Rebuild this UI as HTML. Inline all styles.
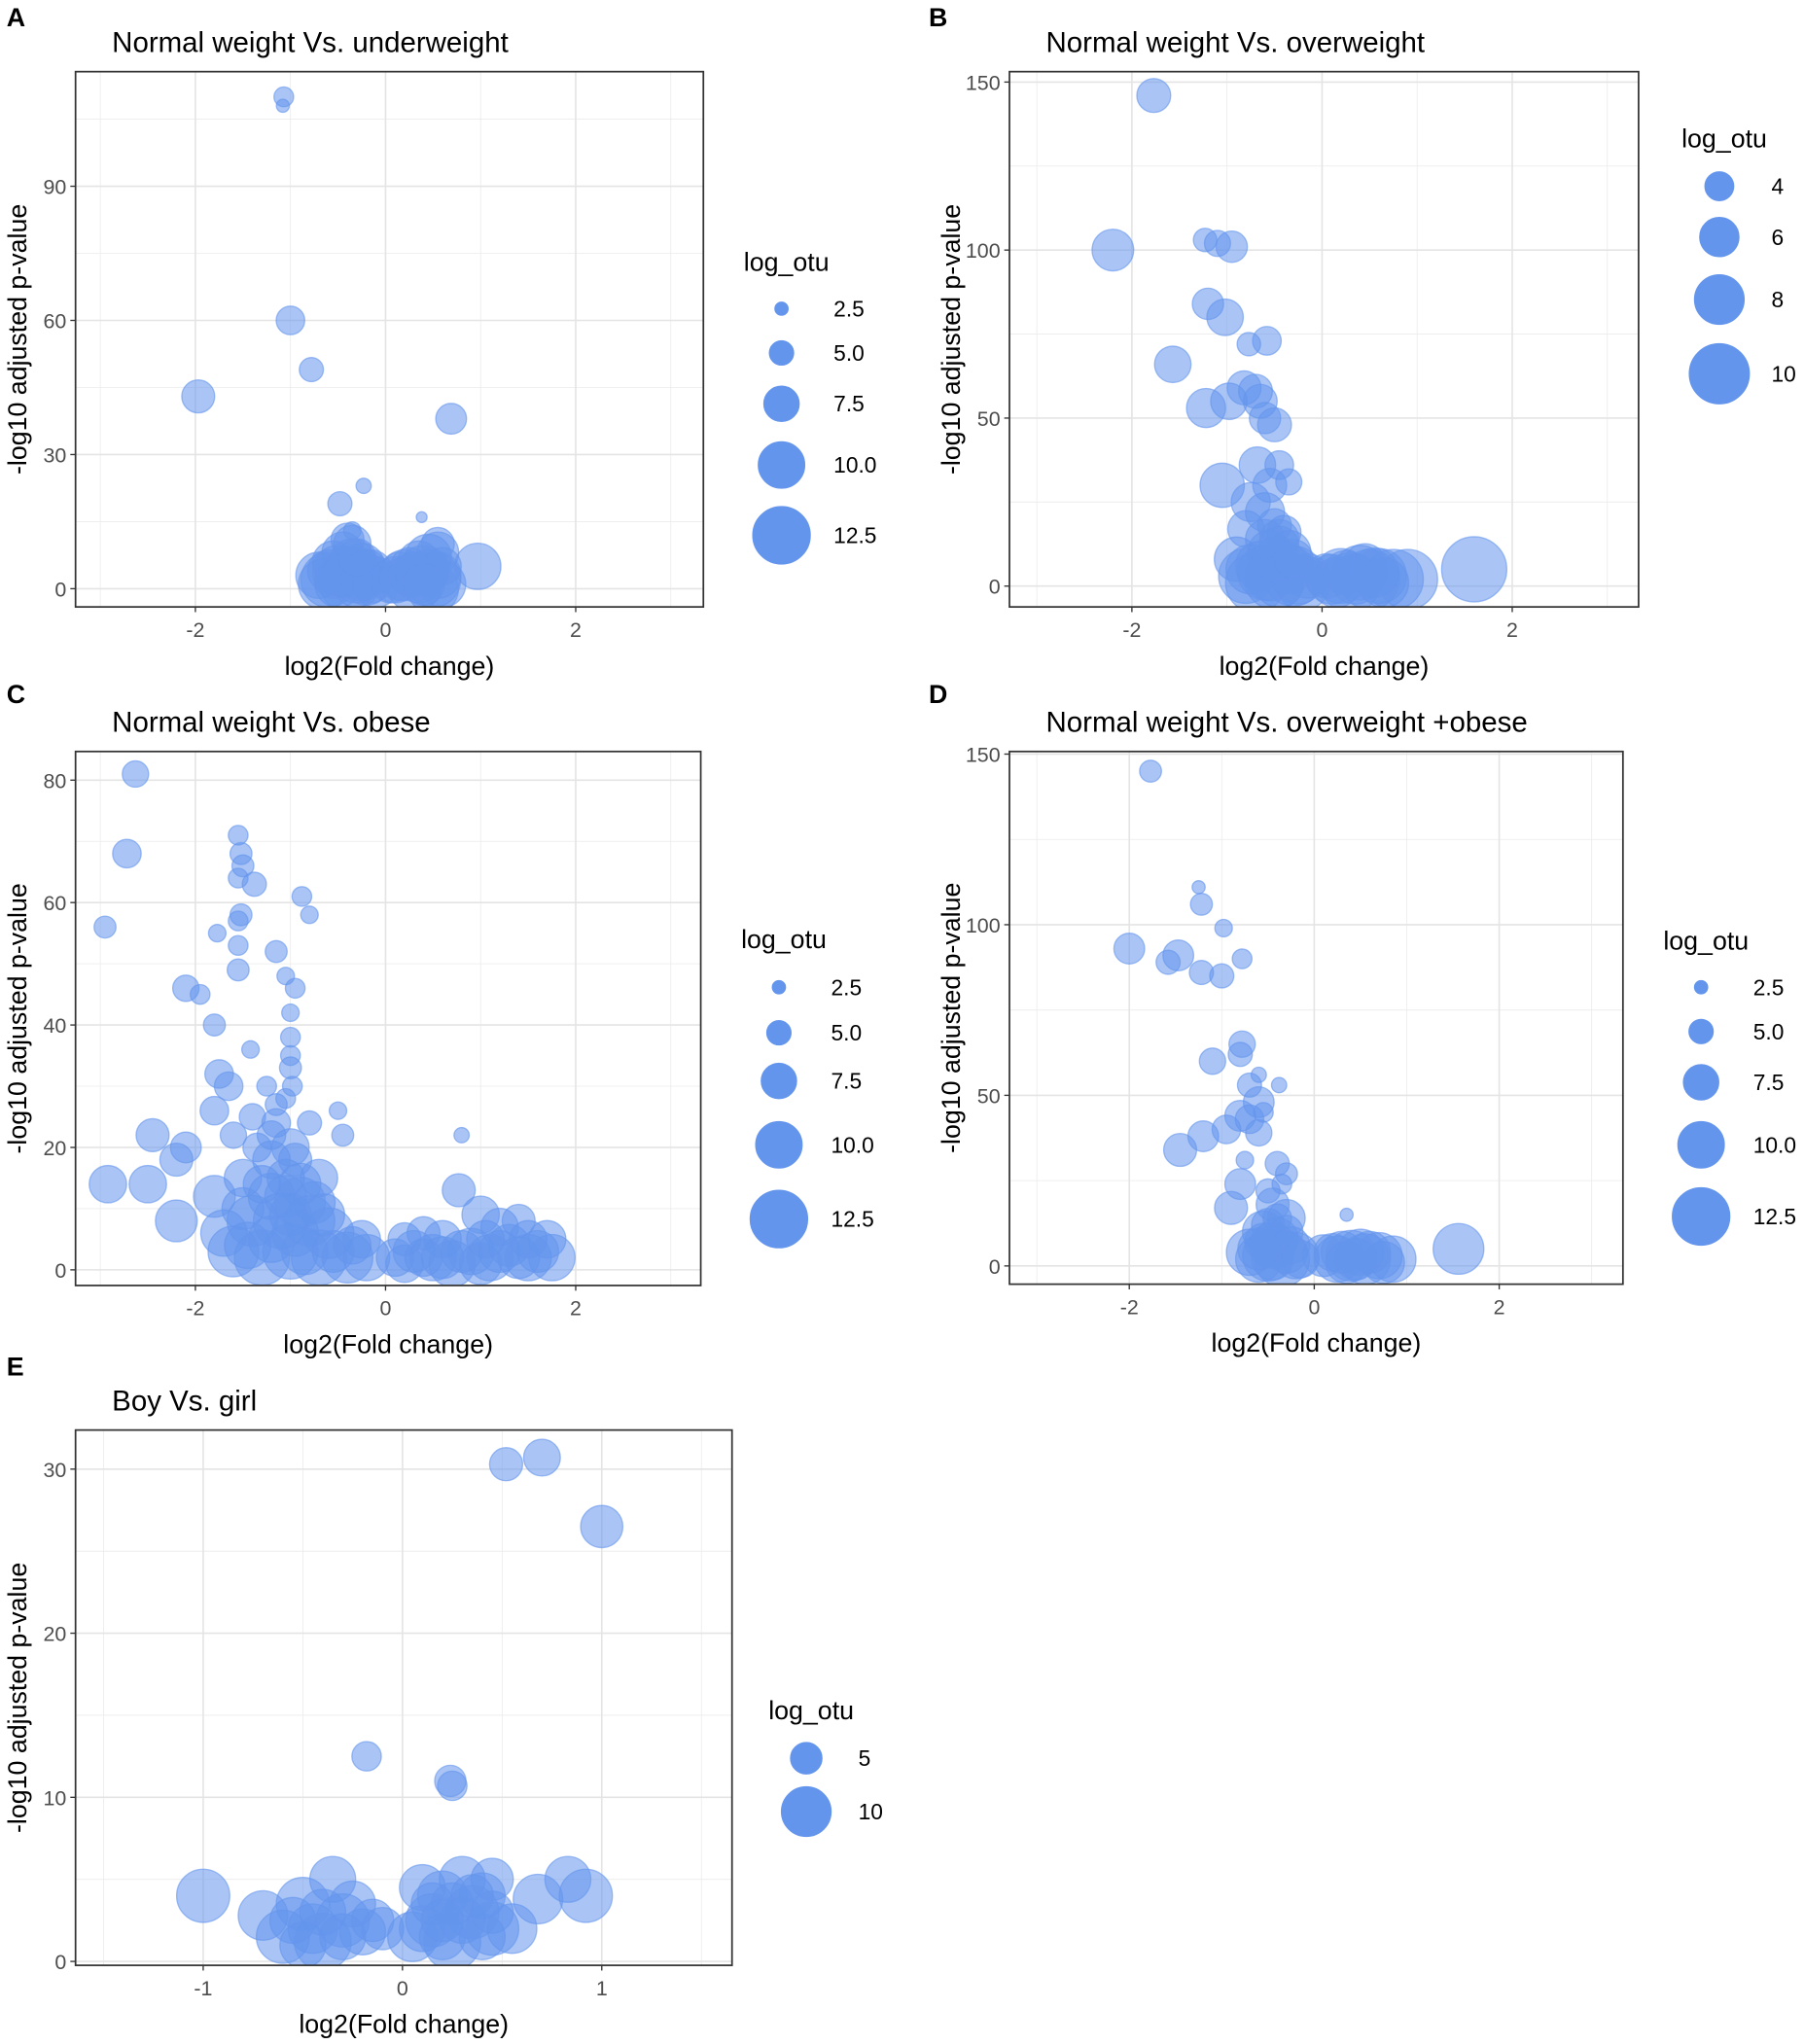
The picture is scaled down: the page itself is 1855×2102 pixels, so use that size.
<!DOCTYPE html>
<html><head><meta charset="utf-8"><style>
html,body{margin:0;padding:0;background:#fff}
svg{display:block;font-family:"Liberation Sans",Arial,sans-serif}
</style></head><body>
<svg id="fig" width="1855" height="2102" viewBox="0 0 1385 1569.4" xmlns="http://www.w3.org/2000/svg"></svg>
<script>
// ---- data (x = log2 fold change, y = -log10 adj p, s = log_otu) ----
const pointsA = [[-1.07,110,4],[-1.08,108,2.5],[-1.0,60,6],[-0.78,49,5],[-1.97,43,7],[0.69,38,6.5],[-0.23,23,3],[-0.48,19,5],[0.38,16,2],[-0.35,13,3.5],[0.55,10,7],[0.97,5,10],
[-0.7,3,10],[-0.6,2,12],[-0.5,4,11],[-0.4,1,12],[-0.3,3,12],[-0.2,2,11],[-0.1,1,10],[-0.45,8,9],[-0.35,6,10],[-0.55,6,9],[-0.25,5,10],[-0.15,4,9],[-0.65,1,11],[-0.35,10,8],
[-0.6,4,9],[-0.5,1,10],[-0.4,4,10],[-0.3,1,10],[-0.2,4,9],[-0.1,3,8],[-0.55,2,8],[-0.45,3,9],[-0.25,2,9],[-0.15,1,8],[-0.3,7,8],[-0.4,11,7],
[0.1,2,10],[0.2,3,11],[0.3,1,12],[0.4,4,11],[0.5,2,12],[0.6,1,10],[0.45,7,10],[0.35,6,9],[0.55,8,9],[0.25,5,8],[0.15,4,8],[0.5,0,11],
[0.05,1,8],[0.15,2,9],[0.25,3,9],[0.35,2,10],[0.45,4,9],[0.55,3,10],[0.6,5,8],[0.3,4,8],[0.4,1,9]];
const pointsB = [[-1.77,146,5],[-2.2,100,6.5],[-1.23,103,3],[-1.1,102,3.5],[-0.95,101,4.5],[-1.2,84,4.5],[-1.02,80,5.5],[-0.58,73,4],[-0.77,72,3],[-1.57,66,5.5],[-0.82,59,5],[-0.7,58,5],[-0.65,55,5],[-1.22,53,6],[-0.98,55,5.5],[-0.6,50,4.5],[-0.5,48,5],[-1.05,30,7],[-0.68,36,5.5],[-0.45,36,4],[-0.55,30,5],[-0.35,31,3.5],[-0.75,25,6],[-0.6,22,6],[-0.8,17,5.5],[-0.5,18,5],[-0.45,12,6],[-0.9,8,7],[-0.8,3,9],[-0.7,1,10],[-0.6,4,9],[-0.5,2,10],[-0.4,6,8],[-0.3,3,10],[-0.2,1,9],[-0.45,14,6],[-0.35,10,7],[-0.55,10,7],
[-0.65,6,8],[-0.55,3,8],[-0.45,1,8],[-0.35,5,8],[-0.25,2,8],[-0.15,3,7],[-0.75,5,8],[-0.5,8,7],[-0.4,16,5],[-0.6,14,6],[-0.3,8,6],
[0.1,2,8],[0.2,3,9],[0.3,1,10],[0.4,4,9],[0.5,2,10],[0.6,3,9],[0.75,2,10],[0.9,2,10],[1.6,5,11],[0.45,6,7],
[0.05,3,7],[0.15,1,8],[0.25,4,7],[0.35,2,8],[0.55,4,8],[0.65,1,8]];
const pointsC = [[-2.63,81,5.5],[-2.72,68,6],[-2.95,56,4.5],[-1.55,71,4],[-1.52,68,4.5],[-1.5,66,4.5],[-1.55,64,4],[-1.38,63,5],[-0.88,61,4],[-0.8,58,3.5],[-1.52,58,4.5],[-1.55,57,4],[-1.77,55,3.5],[-1.55,53,4],[-1.15,52,4.5],[-1.55,49,4.5],[-2.1,46,5.5],[-1.95,45,4],[-1.05,48,3.5],[-0.95,46,4],[-1.8,40,4.5],[-1.0,42,3.5],[-1.0,38,4],[-1.42,36,3.5],[-1.0,35,4],[-1.0,33,4.5],[-1.75,32,6],[-1.65,30,6],[-1.8,26,6],[-2.45,22,7],[-2.1,20,6.5],[-2.2,18,7],[-1.6,22,5.5],[-1.4,25,5.5],[-1.2,22,6],[-0.8,24,5],[-0.5,26,3.5],[-0.45,22,4.5],[-2.92,14,8],[-2.5,14,8],[-2.2,8,9],[-1.8,12,9],[-1.5,15,8],[-1.2,18,8],[-1.0,20,8],[-0.9,14,9],[-0.7,15,8],[-1.6,3,11],[-1.3,2,12],[-1.0,3,12],[-0.7,2,12],[-0.4,2,11],[-0.2,2,10],[-1.4,8,11],[-1.1,8,12],[-0.8,8,11],[-0.6,6,11],[-1.2,12,10],[-0.9,11,11],[-1.5,10,9],
[-1.7,6,10],[-1.45,4,10],[-1.2,5,10],[-0.95,6,10],[-0.85,3,10],[-0.55,3,9],[-0.35,4,8],[-0.65,9,9],[-1.05,15,8],[-1.3,14,8],[-0.75,11,9],[-1.0,9,9],[-1.15,24,6],[-0.95,18,7],[-1.05,12,9],[-0.25,5,8],
[0.1,2,8],[0.3,3,9],[0.5,2,10],[0.7,1,10],[0.6,5,8],[0.4,6,7],[0.8,22,3],[0.77,13,7],[1.0,9,8],[0.9,3,10],[1.1,2,10],[1.3,4,9],[1.5,2,10],[1.7,5,8],[1.75,2,10],[1.2,7,8],[1.4,8,7],[0.2,5,7],
[0.2,1,8],[0.4,2,8],[0.6,2,9],[0.8,3,9],[1.0,1,9],[1.2,3,9],[1.4,2,9],[1.6,3,9],[1.05,5,8],[1.5,5,8],
[-1.05,28,4],[-1.15,27,4.5],[-0.98,30,4],[-1.35,20,6],[-1.25,30,4]];
const pointsD = [[-1.77,145,4.5],[-1.25,111,2.5],[-1.22,106,4.5],[-0.98,99,3.5],[-2.0,93,6.5],[-1.58,89,5],[-1.47,91,6.5],[-1.22,86,5],[-1.0,85,5],[-0.78,90,4],[-0.78,65,5.5],[-0.8,62,5],[-1.1,60,5.5],[-0.6,56,3],[-0.38,53,3],[-0.7,53,5],[-0.6,48,6.5],[-0.55,45,4],[-0.8,44,6.5],[-0.7,43,6],[-0.95,40,6],[-0.6,39,5.5],[-1.2,38,6.5],[-1.45,34,7],[-0.75,31,3.5],[-0.4,30,5],[-0.3,27,4.5],[-0.8,24,6.5],[-0.5,22,5],[-0.9,17,7],[-0.35,24,4],[-0.45,18,7],[0.35,15,2.5],[-0.55,10,9],[-0.4,8,9],[-0.3,14,8],[-0.7,4,10],[-0.5,3,11],[-0.35,2,12],[-0.2,3,10],[-0.45,6,10],[-0.6,2,10],
[-0.5,12,7],[-0.4,14,6],[-0.3,10,7],[-0.55,7,8],[-0.25,6,8],[-0.45,2,9],[-0.3,4,9],[-0.6,5,9],[-0.15,2,8],
[0.1,3,9],[0.25,2,10],[0.4,3,11],[0.55,2,11],[0.7,3,10],[0.85,2,10],[0.5,4,10],[1.56,5,11],[0.3,4,9],
[0.2,4,8],[0.35,1,9],[0.6,4,9],[0.75,1,9],[0.45,2,9]];
const pointsE = [[0.52,30.3,5.5],[0.7,30.7,6.5],[1.0,26.5,8],[-0.18,12.5,4.5],[0.24,11,5],[0.25,10.7,4.5],[-1.0,4,11],[-0.7,2.8,10],[-0.5,3.5,11],[-0.35,5,9],[-0.6,1.5,11],[-0.4,1.2,12],[-0.3,2.5,11],[-0.45,2,10],[-0.2,1.8,9],[-0.1,2,8],[-0.25,3.5,9],[0.05,1.5,10],[0.15,2.5,11],[0.25,1.2,12],[0.35,3,11],[0.45,2,11],[0.2,4,10],[0.3,5,9],[0.1,4.5,9],[0.45,5,8],[0.55,2,10],[0.4,4,9],[0.68,3.8,10],[0.83,5,9],[0.92,4,11],
[-0.55,2.5,9],[-0.4,3,9],[-0.3,1.5,9],[-0.15,2.5,8],[-0.5,1,9],[0.1,2,9],[0.2,1.5,9],[0.3,2.5,9],[0.4,1.5,9],[0.25,3.5,8],[0.15,3.5,8],[0.35,4,8],[0.45,3,8],[0.2,2.5,8]];
const xTicksA=[-2,0,2], yTicksA=[0,30,60,90], legendA=[2.5,5.0,7.5,10.0,12.5];
const xTicksB=[-2,0,2], yTicksB=[0,50,100,150], legendB=[4,6,8,10];
const xTicksC=[-2,0,2], yTicksC=[0,20,40,60,80], legendC=[2.5,5.0,7.5,10.0,12.5];
const xTicksD=[-2,0,2], yTicksD=[0,50,100,150], legendD=[2.5,5.0,7.5,10.0,12.5];
const xTicksE=[-1,0,1], yTicksE=[0,10,20,30], legendE=[5,10];

const NS="http://www.w3.org/2000/svg", svg=document.getElementById('fig');
function mk(tag,attrs,parent){const e=document.createElementNS(NS,tag);for(const k in attrs)e.setAttribute(k,attrs[k]);(parent||svg).appendChild(e);return e;}

function panel(c){
  const g=mk('g',{});
  
  
  const sx=v=>c.x0px+(v-c.xt[0])*(c.x1px-c.x0px)/(c.xt[1]-c.xt[0]);
  const sy=v=>c.y0px+(v-c.yt[0])*(c.y1px-c.y0px)/(c.yt[1]-c.yt[0]);
  const sr=s=>c.r0+(s-c.s0)*(c.r1-c.r0)/(c.s1-c.s0);
  const dx=(c.xticks[1]-c.xticks[0])/2, dy=(c.yticks[1]-c.yticks[0])/2;
  mk('rect',{x:c.L,y:c.T,width:c.R-c.L,height:c.B-c.T,fill:'#fff'},g);
  for(let v=c.xticks[0]-dx*4;v<=c.xticks[c.xticks.length-1]+dx*4;v+=dx){const p=sx(v);if(p>c.L&&p<c.R){const l=mk('line',{x1:p,x2:p,y1:c.T,y2:c.B,stroke:'#ebebeb','stroke-width':0.6},g);}}
  for(let v=c.yticks[0]-dy*4;v<=c.yticks[c.yticks.length-1]+dy*4;v+=dy){const p=sy(v);if(p>c.T&&p<c.B){const l=mk('line',{x1:c.L,x2:c.R,y1:p,y2:p,stroke:'#ebebeb','stroke-width':0.6},g);}}
  c.xticks.forEach(v=>{const p=sx(v);mk('line',{x1:p,x2:p,y1:c.T,y2:c.B,stroke:'#e4e4e4','stroke-width':1.2},g);
    mk('line',{x1:p,x2:p,y1:c.B,y2:c.B+4,stroke:'#333','stroke-width':1},g);
    const t=mk('text',{x:p,y:c.B+23,'text-anchor':'middle','font-size':16,fill:'#4d4d4d'},g);t.textContent=v;
    });
  c.yticks.forEach(v=>{const p=sy(v);mk('line',{x1:c.L,x2:c.R,y1:p,y2:p,stroke:'#e4e4e4','stroke-width':1.2},g);
    mk('line',{x1:c.L-4,x2:c.L,y1:p,y2:p,stroke:'#333','stroke-width':1},g);
    const t=mk('text',{x:c.L-7,y:p+6,'text-anchor':'end','font-size':16,fill:'#4d4d4d'},g);t.textContent=v;
    });
  const cp=mk('clipPath',{id:'clip'+c.id},g);mk('rect',{x:c.L,y:c.T,width:c.R-c.L,height:c.B-c.T},cp);
  const pg=mk('g',{'clip-path':'url(#clip'+c.id+')'},g);
  c.pts.forEach(p=>{const e=mk('circle',{cx:sx(p[0]),cy:sy(p[1]),r:Math.max(2,sr(p[2])),fill:'#6495ED','fill-opacity':0.55,stroke:'#6495ED','stroke-opacity':0.6,'stroke-width':1},pg);
    });
  const fr=mk('rect',{x:c.L,y:c.T,width:c.R-c.L,height:c.B-c.T,fill:'none',stroke:'#333','stroke-width':1.3},g);
  
  let t=mk('text',{x:c.letterX,y:c.letterY,'font-size':20,'font-weight':'bold',fill:'#000'},g);t.textContent=c.id;
  
  t=mk('text',{x:c.L+28,y:c.T-15,'font-size':22,fill:'#000'},g);t.textContent=c.title;
  
  t=mk('text',{x:(c.L+c.R)/2,y:c.B+52,'text-anchor':'middle','font-size':20,fill:'#000'},g);t.textContent='log2(Fold change)';
  
  const ym=(c.T+c.B)/2;
  t=mk('text',{x:c.L-38,y:ym,'text-anchor':'middle','font-size':20,fill:'#000',transform:`rotate(-90 ${c.L-38} ${ym})`},g);t.textContent='-log10 adjusted p-value';
  
  t=mk('text',{x:c.legX-29,y:c.legTitleY,'font-size':20,fill:'#000'},g);t.textContent='log_otu';
  
  c.leg.forEach((v,i)=>{const e=mk('circle',{cx:c.legX,cy:c.legY[i],r:sr(v),fill:'#6495ED',stroke:'#6495ED','stroke-width':1},g);
    
    const tt=mk('text',{x:c.legX+40,y:c.legY[i]+6,'font-size':17,fill:'#000'},g);tt.textContent=c.legLabels?c.legLabels[i]:v;
    });
}
panel({id:'A',title:'Normal weight Vs. underweight',L:58,R:540,T:55,B:466,x0px:150,x1px:296,xt:[-2,0],y0px:452,y1px:349,yt:[0,30],
 xticks:xTicksA,yticks:yTicksA,pts:pointsA,r0:5,r1:22,s0:2.5,s1:12.5,letterX:5,letterY:20,legX:600,legTitleY:208,
 leg:legendA,legLabels:['2.5','5.0','7.5','10.0','12.5'],legY:[237,271,310,357,411]});
panel({id:'B',title:'Normal weight Vs. overweight',L:775,R:1258,T:55,B:466,x0px:869,x1px:1015,xt:[-2,0],y0px:450,y1px:321,yt:[0,50],
 xticks:xTicksB,yticks:yTicksB,pts:pointsB,r0:11,r1:23,s0:4,s1:10,letterX:713,letterY:20,legX:1320,legTitleY:113,
 leg:legendB,legY:[143,182,230,287]});
panel({id:'C',title:'Normal weight Vs. obese',L:58,R:538,T:577,B:987,x0px:150,x1px:296,xt:[-2,0],y0px:975,y1px:881,yt:[0,20],
 xticks:xTicksC,yticks:yTicksC,pts:pointsC,r0:5,r1:22,s0:2.5,s1:12.5,letterX:5,letterY:540,legX:598,legTitleY:728,
 leg:legendC,legLabels:['2.5','5.0','7.5','10.0','12.5'],legY:[758,793,830,879,936]});
panel({id:'D',title:'Normal weight Vs. overweight +obese',L:775,R:1246,T:577,B:986,x0px:867,x1px:1009,xt:[-2,0],y0px:972,y1px:841,yt:[0,50],
 xticks:xTicksD,yticks:yTicksD,pts:pointsD,r0:5,r1:22,s0:2.5,s1:12.5,letterX:713,letterY:540,legX:1306,legTitleY:729,
 leg:legendD,legLabels:['2.5','5.0','7.5','10.0','12.5'],legY:[758,792,831,879,934]});
panel({id:'E',title:'Boy Vs. girl',L:58,R:562,T:1098,B:1509,x0px:309,x1px:462,xt:[0,1],y0px:1506,y1px:1380,yt:[0,10],
 xticks:xTicksE,yticks:yTicksE,pts:pointsE,r0:12,r1:19,s0:5,s1:10,letterX:5,letterY:1056,legX:619,legTitleY:1320,
 leg:legendE,legY:[1350,1391]});
</script>
</body></html>
